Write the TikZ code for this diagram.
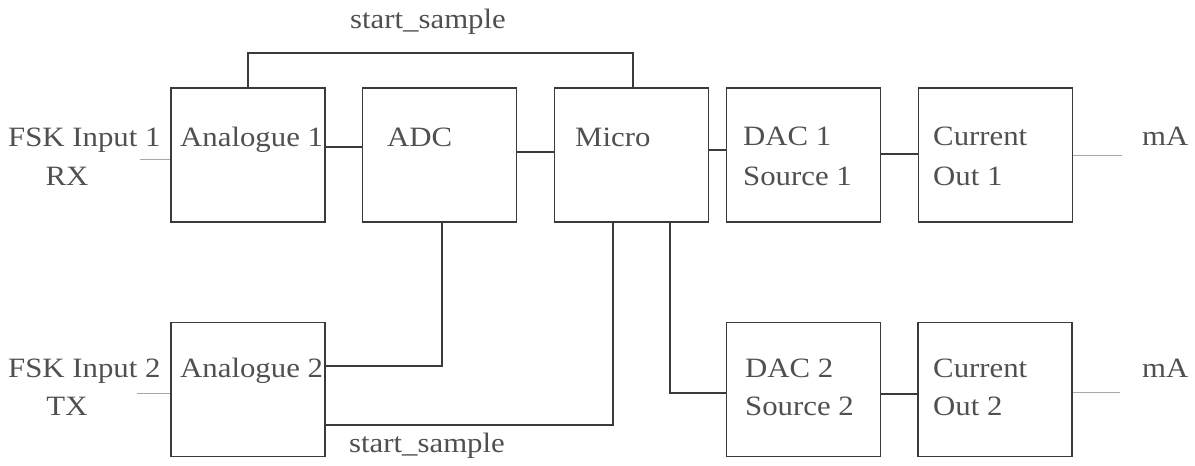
\documentclass[tikz,border=0pt]{standalone}
\usepackage{fontspec}
\setmainfont{Liberation Serif}[FakeStretch=1.1]
\definecolor{ink}{HTML}{3A3A3A}
\definecolor{txtgray}{HTML}{505050}
\definecolor{stub}{HTML}{A8A8A8}
\tikzset{
  blk/.style={draw=ink, line width=1.4pt, minimum width=154pt, minimum height=134pt, inner sep=0pt},
  wire/.style={draw=ink, line width=1.4pt},
  stubline/.style={draw=stub, line width=0.9pt},
  lbl/.style={anchor=base west, inner sep=0pt, text=txtgray, font=\fontsize{28}{33}\selectfont},
  clbl/.style={anchor=base, inner sep=0pt, text=txtgray, font=\fontsize{28}{33}\selectfont}
}
\begin{document}
\begin{tikzpicture}[x=1pt, y=-1pt]
\useasboundingbox (0,0) rectangle (1195,466);
\fill[white] (0,0) rectangle (1195,466);

% blocks
\node[blk] (an1)  at (248,155) {};
\node[blk] (adc)  at (439.5,155) {};
\node[blk] (mic)  at (631.5,155) {};
\node[blk] (dac1) at (803.5,155) {};
\node[blk] (out1) at (995.5,155) {};
\node[blk] (an2)  at (248,389.5) {};
\node[blk] (dac2) at (803.5,389.5) {};
\node[blk] (out2) at (995,389.5) {};

% block texts
\node[lbl] (tan1)  at (180,146) {Analogue 1};
\node[lbl] (tadc)  at (387,146) {ADC};
\node[lbl] (tmic)  at (575,146) {Micro};
\node[lbl] (tdac1a) at (743,145) {DAC 1};
\node[lbl] (tdac1b) at (743,185) {Source 1};
\node[lbl] (tout1a) at (933,145) {Current};
\node[lbl] (tout1b) at (933,185) {Out 1};
\node[lbl] (tan2)  at (180,377) {Analogue 2};
\node[lbl] (tdac2a) at (745,377) {DAC 2};
\node[lbl] (tdac2b) at (745,415) {Source 2};
\node[lbl] (tout2a) at (933,377) {Current};
\node[lbl] (tout2b) at (933,415) {Out 2};

% outside texts
\node[lbl]  (fsk1) at (8,146) {FSK Input 1};
\node[clbl] (rx)   at (67,185) {RX};
\node[lbl]  (fsk2) at (8,377) {FSK Input 2};
\node[clbl] (tx)   at (67,415) {TX};
\node[lbl]  (ma1)  at (1142,145) {mA};
\node[lbl]  (ma2)  at (1142,377) {mA};
\node[clbl] (ss1)  at (428,28) {start\_sample};
\node[clbl] (ss2)  at (427,452) {start\_sample};

% input and output stubs
\coordinate (in1) at (140,159);
\coordinate (in2) at (137,393);
\coordinate (o1) at (1122,155);
\coordinate (o2) at (1120,392);
\draw[stubline] (in1) -- (an1.west |- in1);
\draw[stubline] (in2) -- (an2.west |- in2);
\draw[stubline] (out1.east |- o1) -- (o1);
\draw[stubline] (out2.east |- o2) -- (o2);

% signal paths
\draw[wire] ([yshift=8pt]an1.east) -- ([yshift=8pt]adc.west);
\draw[wire] ([yshift=3pt]adc.east) -- ([yshift=3pt]mic.west);
\draw[wire] ([yshift=5pt]mic.east) -- ([yshift=5pt]dac1.west);
\draw[wire] ([yshift=1pt]dac1.east) -- ([yshift=1pt]out1.east -| out1.west);
\coordinate (topbus) at (440,53);
\draw[wire] (an1.north) |- (topbus) -| ([xshift=1.5pt]mic.north);
\draw[wire] ([xshift=2.5pt]adc.south) |- ([yshift=23.5pt]an2.east);
\draw[wire] ([yshift=-35.5pt]an2.east) -| ([xshift=-18.5pt]mic.south);
\draw[wire] ([xshift=38.5pt]mic.south) |- ([yshift=-3.5pt]dac2.west);
\draw[wire] ([yshift=-4.5pt]dac2.east) -- ([yshift=-4.5pt]out2.west);
\end{tikzpicture}
\end{document}
